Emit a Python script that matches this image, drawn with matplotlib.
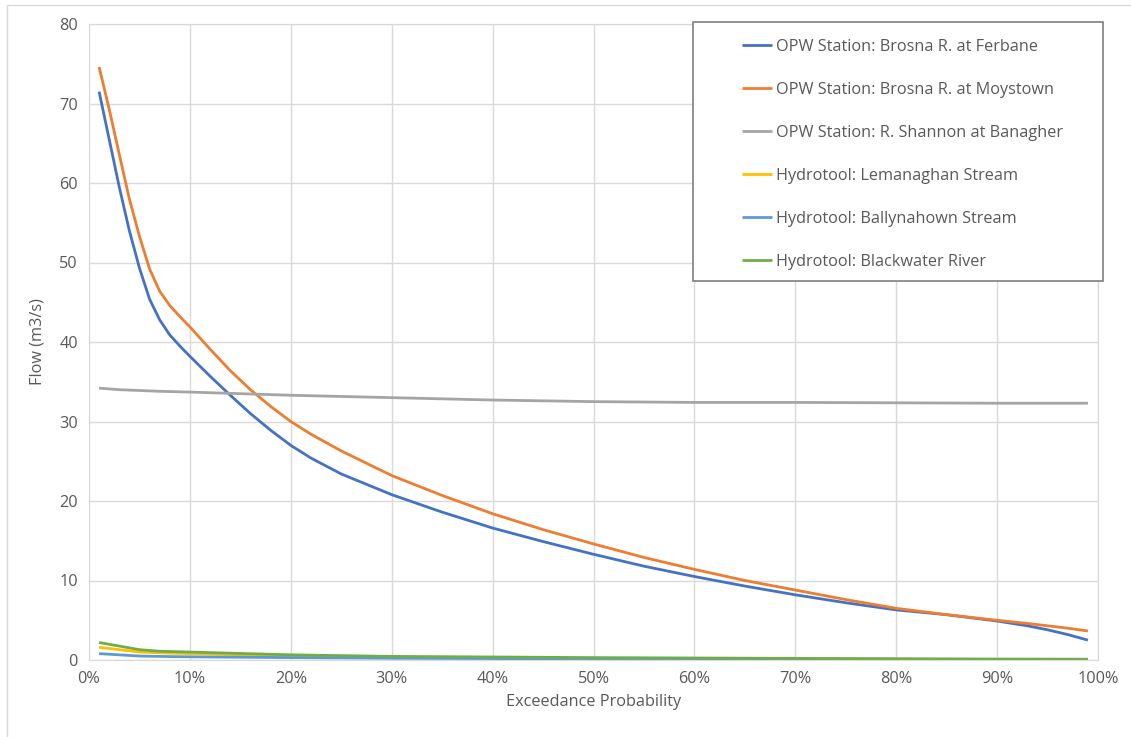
import matplotlib
matplotlib.use("Agg")
import matplotlib.pyplot as plt
from matplotlib.ticker import FuncFormatter

# Exceedance probability (%)
x_main = [1, 2, 3, 4, 5, 6, 7, 8, 9, 10, 12, 14, 16, 18, 20, 22, 25, 30, 35, 40, 45, 50,
          55, 60, 65, 70, 75, 80, 85, 90, 93, 95, 97, 99]
ferbane = [71.5, 65.5, 59.5, 54.0, 49.3, 45.4, 42.8, 40.9, 39.5, 38.2, 35.7, 33.3, 31.0, 28.9,
           27.0, 25.4, 23.4, 20.8, 18.6, 16.6, 14.9, 13.3, 11.8, 10.5, 9.3, 8.2, 7.2, 6.3,
           5.7, 4.9, 4.3, 3.8, 3.2, 2.5]
moystown = [74.6, 69.3, 63.6, 58.0, 53.3, 49.2, 46.4, 44.6, 43.2, 41.9, 39.1, 36.4, 34.0, 31.9,
            30.0, 28.4, 26.3, 23.2, 20.7, 18.4, 16.4, 14.6, 12.9, 11.4, 10.0, 8.8, 7.6, 6.5,
            5.7, 5.0, 4.6, 4.3, 4.0, 3.65]

x_other = [1, 3, 5, 7, 10, 20, 30, 40, 50, 60, 70, 80, 90, 99]
banagher = [34.2, 34.0, 33.9, 33.8, 33.7, 33.3, 33.0, 32.7, 32.5, 32.4, 32.4, 32.35, 32.3, 32.3]
lemanaghan = [1.6, 1.3, 1.0, 0.9, 0.8, 0.5, 0.35, 0.28, 0.2, 0.15, 0.12, 0.1, 0.07, 0.05]
ballynahown = [0.8, 0.65, 0.5, 0.45, 0.4, 0.3, 0.22, 0.18, 0.15, 0.12, 0.1, 0.08, 0.06, 0.05]
blackwater = [2.2, 1.75, 1.3, 1.1, 1.0, 0.65, 0.45, 0.38, 0.3, 0.25, 0.2, 0.16, 0.12, 0.1]

labels = ["OPW Station: Brosna R. at Ferbane",
          "OPW Station: Brosna R. at Moystown",
          "OPW Station: R. Shannon at Banagher",
          "Hydrotool: Lemanaghan Stream",
          "Hydrotool: Ballynahown Stream",
          "Hydrotool: Blackwater River"]
colors = ["#4472C4", "#ED7D31", "#A5A5A5", "#FFC000", "#5B9BD5", "#70AD47"]

plt.rcParams['font.family'] = ['Open Sans', 'DejaVu Sans']
txt = "#595959"
fs = 11.7
W, H = 1131, 737

fig = plt.figure(figsize=(W / 100, H / 100), dpi=100)
ax = fig.add_axes([89 / W, 1 - 660 / H, (1098 - 89) / W, (660 - 24) / H])

series = [(x_main, ferbane), (x_main, moystown), (x_other, banagher),
          (x_other, lemanaghan), (x_other, ballynahown), (x_other, blackwater)]
for (xs, ys), lab, c in zip(series, labels, colors):
    ax.plot([v / 100 for v in xs], ys, color=c, lw=2, label=lab,
            solid_joinstyle="round", solid_capstyle="butt")

ax.set_xlim(0, 1)
ax.set_ylim(0, 80)
ax.set_xticks([i / 10 for i in range(11)])
ax.set_yticks(range(0, 81, 10))
ax.xaxis.set_major_formatter(FuncFormatter(lambda v, p: f"{v*100:.0f}%"))
ax.grid(True, color="#D9D9D9", lw=1)
ax.set_axisbelow(True)
for s in ax.spines.values():
    s.set_color("#D9D9D9")
ax.tick_params(length=0, labelsize=fs, colors=txt, pad=8)
ax.set_xlabel("Exceedance Probability", fontsize=fs, color=txt, labelpad=5)
ax.set_ylabel("Flow (m3/s)", fontsize=fs, color=txt, labelpad=10)

# legend frame box
box = plt.Rectangle((693 / W, 1 - 281 / H), (1103 - 693) / W, (281 - 22) / H,
                    transform=fig.transFigure, facecolor="white",
                    edgecolor="#7F7F7F", lw=1.2, zorder=5, clip_on=False)
ax.add_patch(box)
leg = ax.legend(loc="upper left", bbox_to_anchor=(742 / W, 1 - 39 / H),
                bbox_transform=fig.transFigure, fontsize=fs, frameon=False,
                labelspacing=1.66, handlelength=1.85, handletextpad=0.25,
                borderpad=0, borderaxespad=0)
leg.set_zorder(6)
for t in leg.get_texts():
    t.set_color(txt)

# outer chart border
fig.patches.append(plt.Rectangle((7 / W, -0.1), 1.2, 1.1 - 5 / H, transform=fig.transFigure,
                                 fill=False, edgecolor="#D9D9D9", lw=1))

fig.savefig("out.png", dpi=100)
